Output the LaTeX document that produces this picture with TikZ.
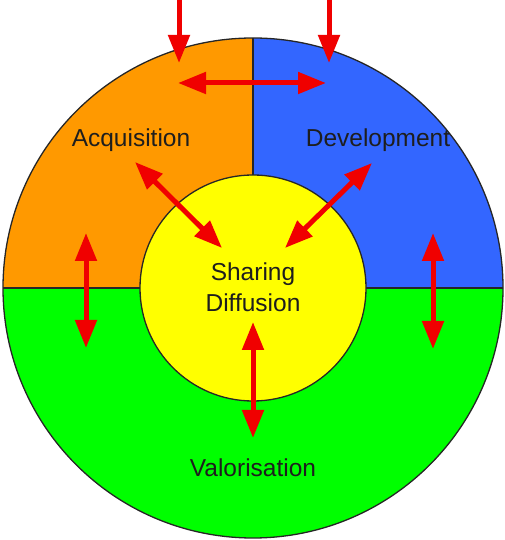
\documentclass[tikz,border=0pt]{standalone}
\usepackage{fontspec}
\setmainfont{Liberation Sans}
\usetikzlibrary{arrows.meta}
\definecolor{qorange}{RGB}{255,153,0}
\definecolor{qblue}{RGB}{51,102,255}
\definecolor{qgreen}{RGB}{0,255,0}
\definecolor{qyellow}{RGB}{255,255,0}
\definecolor{qred}{RGB}{240,0,0}
\definecolor{qtext}{RGB}{30,30,30}
\tikzset{
  outline/.style={draw=black!85, line width=1.3pt},
  redarrow/.style={draw=qred, line width=5pt,
    -{Triangle[width=21pt,length=28pt]}},
  reddouble/.style={draw=qred, line width=5pt,
    {Triangle[width=21pt,length=28pt]}-{Triangle[width=21pt,length=28pt]}},
  lbl/.style={font=\fontsize{24.5}{30}\selectfont, text=qtext, anchor=base, inner sep=0pt}
}
\begin{document}
\begin{tikzpicture}[x=1pt,y=1pt]
\useasboundingbox (0,0) rectangle (504,540);
\coordinate (c) at (253,252);
% quadrants
\fill[qorange] (c) -- ++(180:250) arc[start angle=180,end angle=90,radius=250] -- cycle;
\fill[qblue] (c) -- ++(90:250) arc[start angle=90,end angle=0,radius=250] -- cycle;
\fill[qgreen] (c) -- ++(180:250) arc[start angle=180,end angle=360,radius=250] -- cycle;
\draw[outline] (c) circle[radius=250];
\draw[outline] (c) ++(-250,0) -- ++(500,0);
\draw[outline] (c) -- ++(0,250);
% inner circle
\node[circle, fill=qyellow, outline, minimum size=226pt, inner sep=0pt] (core) at (c) {};
% labels
\node[lbl] (acq) at (131,393) {Acquisition};
\node[lbl] (dev) at (378,393) {Development};
\node[lbl] (sha) at (253,259) {Sharing};
\node[lbl] (dif) at (253,228) {Diffusion};
\node[lbl] (val) at (253,63) {Valorisation};
% arrow end points
\coordinate (tls) at (179,540); \coordinate (tle) at (179,477);
\coordinate (trs) at (329,540); \coordinate (tre) at (329,477);
\coordinate (hl) at (178,457); \coordinate (hr) at (326,457);
\coordinate (dla) at (135,378); \coordinate (dlb) at (222,292);
\coordinate (dra) at (372,377); \coordinate (drb) at (285,292);
\coordinate (lva) at (86,307); \coordinate (lvb) at (86,192);
\coordinate (rva) at (433,307); \coordinate (rvb) at (433,191);
\coordinate (bva) at (253,218); \coordinate (bvb) at (253,102);
% arrows
\draw[redarrow] (tls) -- (tle);
\draw[redarrow] (trs) -- (tre);
\draw[reddouble] (hl) -- (hr);
\draw[reddouble] (dla) -- (dlb);
\draw[reddouble] (dra) -- (drb);
\draw[reddouble] (lva) -- (lvb);
\draw[reddouble] (rva) -- (rvb);
\draw[reddouble] (bva) -- (bvb);
\end{tikzpicture}
\end{document}
